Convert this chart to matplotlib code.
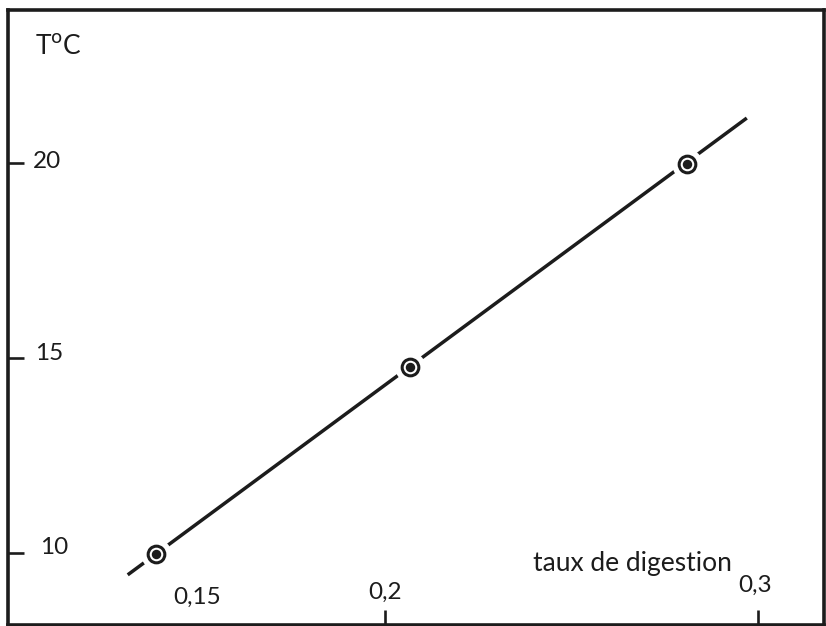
import matplotlib
matplotlib.use("Agg")
import matplotlib.pyplot as plt

# Measured points: digestion rate vs temperature
taux = [0.1386, 0.2067, 0.281]
temp = [9.97, 14.77, 19.97]

# Ends of the fitted straight line
line_x = [0.131, 0.297]
line_y = [9.44, 21.15]

x_ticks = [0.2, 0.3]
y_ticks = [10, 15, 20]
x_labels = ["0,15", "0,2", "0,3"]
y_labels = ["10", "15", "20"]

W, H = 826, 626
ink = "#1c1c1c"
plt.rcParams["font.family"] = ["Lato", "DejaVu Sans"]

fig = plt.figure(figsize=(W / 100, H / 100), dpi=100)
fig.patch.set_facecolor("white")
ax = fig.add_axes([8 / W, 1 - 625 / H, 816 / W, 615 / H])
ax.set_xlim(0.0989, 0.3177)
ax.set_ylim(8.154, 23.92)

for s in ax.spines.values():
    s.set_linewidth(2.6)
    s.set_color(ink)

ax.set_xticks(x_ticks)
ax.set_yticks(y_ticks)
ax.tick_params(axis="x", direction="in", length=11, width=1.9, color=ink,
               labelbottom=False)
ax.tick_params(axis="y", direction="in", length=11.5, width=1.9, color=ink,
               labelleft=False)

# fitted line with gaps around the markers
ax.plot(line_x, line_y, color=ink, lw=2.5, solid_capstyle="butt", zorder=2)
ax.plot(taux, temp, ls="none", marker="o", ms=22, mfc="white", mec="none", zorder=3)
ax.plot(taux, temp, ls="none", marker="o", ms=12, mfc="white", mec=ink, mew=2.2, zorder=4)
ax.plot(taux, temp, ls="none", marker="o", ms=6.8, mfc=ink, mec="none", zorder=5)


def px(x, y):
    return x / W, 1 - y / H


fs = 17.5
# y tick labels, placed inside the frame
for (xp, yp), lab in zip([(40, 548), (35, 353), (33, 162)], y_labels):
    fig.text(*px(xp, yp), lab, fontsize=fs, color=ink, ha="left", va="center")

# x tick labels
for (xp, yp), lab in zip([(197, 597), (385, 592), (755, 585)], x_labels):
    fig.text(*px(xp, yp), lab, fontsize=fs, color=ink, ha="center", va="center")

fig.text(*px(632, 563), "taux de digestion", fontsize=19, color=ink,
         ha="center", va="center")
fig.text(*px(35, 47), r"T$^{\mathrm{o}}$C", fontsize=19, color=ink,
         ha="left", va="center")

fig.savefig("out.png", dpi=100, facecolor="white")
